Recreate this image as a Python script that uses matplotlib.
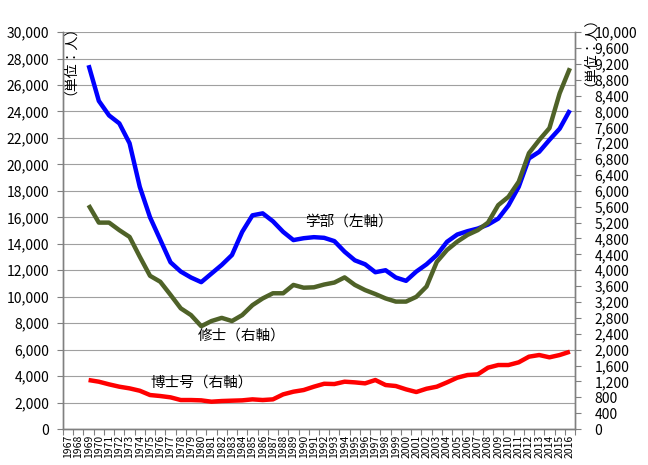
import matplotlib
matplotlib.use("Agg")
import matplotlib.pyplot as plt
from matplotlib.ticker import FuncFormatter, MultipleLocator, FixedLocator

plt.rcParams['font.family'] = ['Noto Sans CJK JP', 'DejaVu Sans']

# === DATA ===
years = list(range(1967, 2017))

# 学部 (left axis), starts 1969
gakubu = [27500, 24800, 23700, 23100, 21600, 18300, 16000, 14300, 12600, 11900,
          11450, 11100, 11750, 12400, 13150, 14900, 16150, 16300, 15700, 14900,
          14280, 14420, 14500, 14450, 14200, 13400, 12750, 12450, 11850, 12000,
          11450, 11200, 11900, 12450, 13150, 14150, 14700, 14950, 15150, 15450,
          15900, 16900, 18300, 20450, 20950, 21850, 22700, 24100]

# 修士 (right axis), starts 1969
shushi = [5640, 5200, 5200, 5010, 4840, 4340, 3860, 3710, 3380, 3040,
          2870, 2590, 2720, 2800, 2720, 2870, 3120, 3290, 3420, 3420,
          3630, 3560, 3570, 3640, 3690, 3820, 3630, 3500, 3400, 3290,
          3210, 3210, 3330, 3590, 4210, 4510, 4720, 4890, 5010, 5200,
          5640, 5850, 6230, 6950, 7280, 7580, 8460, 9090]

# 博士号 (right axis), starts 1969
hakushi = [1234, 1192, 1125, 1066, 1024, 964, 856, 831, 798, 730,
           730, 722, 688, 705, 714, 722, 747, 730, 747, 873,
           940, 982, 1066, 1140, 1133, 1192, 1175, 1150, 1234, 1108,
           1083, 999, 932, 1015, 1066, 1175, 1293, 1360, 1377, 1545,
           1612, 1612, 1680, 1822, 1864, 1806, 1864, 1948]

START = 1969
labels = {
    'gakubu': '学部（左軸）',
    'shushi': '修士（右軸）',
    'hakushi': '博士号（右軸）',
}

fig = plt.figure(figsize=(6.48, 4.65), dpi=100)
ax = fig.add_axes([0.0972, 0.0774, 0.7902, 0.8536])
ax2 = ax.twinx()

xs = [years.index(START) + i for i in range(len(gakubu))]

ax.plot(xs, gakubu, color='#0000FF', linewidth=3.2, solid_capstyle='butt')
ax2.plot(xs, shushi, color='#4F6228', linewidth=3.2, solid_capstyle='butt')
ax2.plot(xs, hakushi, color='#FF0000', linewidth=3.2, solid_capstyle='butt')

# left axis
ax.set_xlim(-0.5, len(years) - 0.5)
ax.set_ylim(0, 30000)
ax.yaxis.set_major_locator(MultipleLocator(2000))
ax.yaxis.set_major_formatter(FuncFormatter(lambda v, p: f"{int(v):,}"))
ax.grid(axis='y', color='#A0A0A0', linewidth=0.8)
ax.set_axisbelow(True)
ax.tick_params(axis='y', labelsize=10, length=4, width=0.8, color='#808080', pad=6)

# right axis
ax2.set_ylim(0, 10000)
ax2.yaxis.set_major_locator(MultipleLocator(400))
ax2.yaxis.set_major_formatter(FuncFormatter(lambda v, p: f"{int(v):,}"))
ax2.tick_params(axis='y', labelsize=10, length=4, width=0.8, color='#808080', pad=10)

# x axis: labels at categories, tick marks between
ax.set_xticks(range(len(years)))
ax.set_xticklabels([str(y) for y in years], rotation=90, fontsize=7.5)
ax.tick_params(axis='x', which='major', length=0, pad=4)
ax.xaxis.set_minor_locator(FixedLocator([i - 0.5 for i in range(len(years) + 1)]))
ax.tick_params(axis='x', which='minor', length=4, width=0.8, color='#808080')

for a in (ax, ax2):
    for side in ('left', 'right', 'bottom'):
        a.spines[side].set_color('#808080')
        a.spines[side].set_linewidth(1.0)
    a.spines['top'].set_visible(False)

# axis titles
fig.text(0.097, 0.885, '（単位：人）', rotation=90, fontsize=10, ha='center', va='center')
fig.text(0.900, 0.905, '（単位：人）', rotation=90, fontsize=10, ha='center', va='center')

# series labels
ax.text(23.1, 15640, labels['gakubu'], fontsize=10.5, va='center', ha='left')
ax.text(12.7, 7030, labels['shushi'], fontsize=10.5, va='center', ha='left')
ax.text(8.0, 3480, labels['hakushi'], fontsize=10.5, va='center', ha='left')

fig.savefig('out.png', dpi=100)
